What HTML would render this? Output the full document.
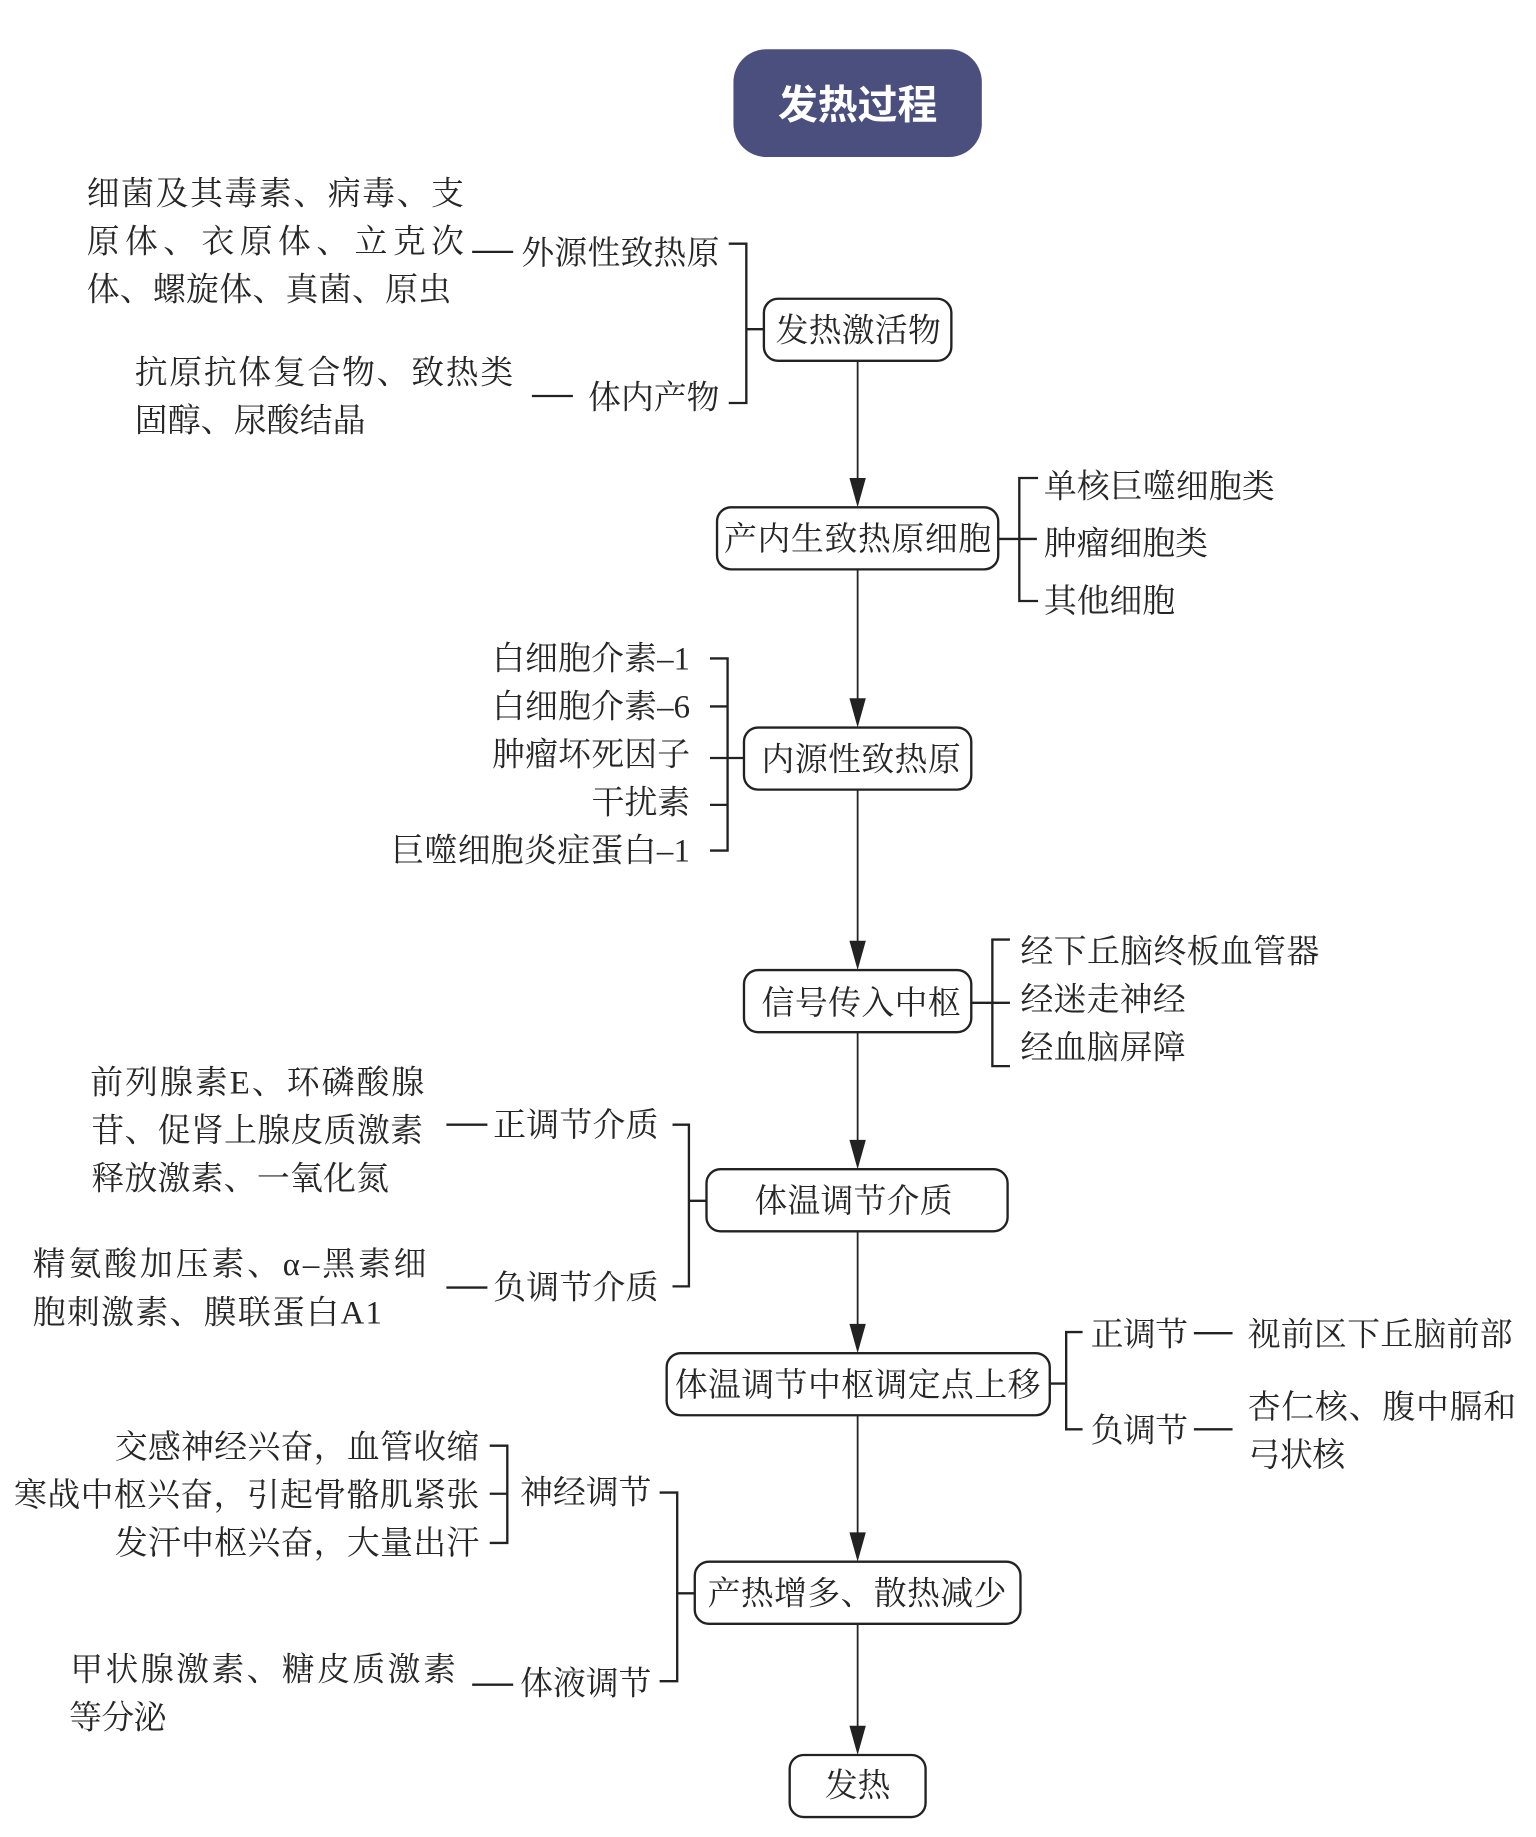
<!DOCTYPE html>
<html lang="zh">
<head>
<meta charset="utf-8">
<title>发热过程</title>
<style>
html,body{margin:0;padding:0;background:#fff;}
svg{display:block;}
text{font-family:"Liberation Serif","Noto Serif CJK SC",serif;font-size:28px;fill:#262626;}
.n{fill:#fff;stroke:#222;stroke-width:2;}
.l{stroke:#222;stroke-width:2;fill:none;}
.a{stroke:#222;stroke-width:1.5;fill:none;}
</style>
</head>
<body>
<svg xmlns="http://www.w3.org/2000/svg" width="1536" height="1837" viewBox="0 0 1311 1568" preserveAspectRatio="none">
<rect width="1311" height="1568" fill="#fff"/>
<rect x="626" y="42" width="212" height="92" rx="28" fill="#4b4f7e"/>
<text x="664" y="101" textLength="136" lengthAdjust="spacing" style="font-family:'Liberation Sans','Noto Sans CJK SC',sans-serif;font-size:34px;font-weight:700;fill:#fff">发热过程</text>

<!-- main arrows -->
<g class="a">
<path d="M732 308V412M732 486V600M732 674V807M732 881V977M732 1051V1134M732 1208V1312M732 1386V1477"/>
</g>
<g fill="#222">
<path d="M725 408H739L732 433Z"/>
<path d="M725 596H739L732 621Z"/>
<path d="M725 803H739L732 828Z"/>
<path d="M725 973H739L732 998Z"/>
<path d="M725 1130H739L732 1155Z"/>
<path d="M725 1308H739L732 1333Z"/>
<path d="M725 1473H739L732 1498Z"/>
</g>

<!-- nodes -->
<rect class="n" x="652" y="255" width="160" height="53" rx="12"/>
<rect class="n" x="612" y="433" width="240" height="53" rx="12"/>
<rect class="n" x="635" y="621" width="194" height="53" rx="12"/>
<rect class="n" x="635" y="828" width="194" height="53" rx="12"/>
<rect class="n" x="603" y="998" width="257" height="53" rx="12"/>
<rect class="n" x="569" y="1155" width="327" height="53" rx="12"/>
<rect class="n" x="593" y="1333" width="278" height="53" rx="12"/>
<rect class="n" x="674" y="1498" width="116" height="53" rx="12"/>

<!-- connectors -->
<g class="l">
<path d="M403 215H438"/>
<path d="M622 208H637V344H622M637 281H652"/>
<path d="M454 338H489"/>
<path d="M852 460H885M886 408H870V513H886"/>
<path d="M606 562H621V726H606M606 603H621M606 647H635M606 687H621"/>
<path d="M829 856H862M862 802H847V910H862"/>
<path d="M381 960H416"/>
<path d="M574 960H588V1098H574M588 1025H603"/>
<path d="M381 1099H416"/>
<path d="M896 1181H910M924 1137H910V1220H924"/>
<path d="M1019 1138H1052M1019 1220H1052"/>
<path d="M418 1234H433V1317H418M418 1275H433"/>
<path d="M563 1274H578V1435H563M578 1360H593"/>
<path d="M403 1438H438"/>
</g>

<g transform="translate(0,0.5)">
<!-- node labels -->
<text x="662" y="291" textLength="141" lengthAdjust="spacing">发热激活物</text>
<text x="618" y="469" textLength="228" lengthAdjust="spacing">产内生致热原细胞</text>
<text x="650" y="657" textLength="170" lengthAdjust="spacing">内源性致热原</text>
<text x="650" y="865" textLength="170" lengthAdjust="spacing">信号传入中枢</text>
<text x="644" y="1034" textLength="169" lengthAdjust="spacing">体温调节介质</text>
<text x="576" y="1191" textLength="312" lengthAdjust="spacing">体温调节中枢调定点上移</text>
<text x="604" y="1369" textLength="255" lengthAdjust="spacing">产热增多、散热减少</text>
<text x="704" y="1533" textLength="56" lengthAdjust="spacing">发热</text>

<!-- top left -->
<text x="74" y="174" textLength="322" lengthAdjust="spacing">细菌及其毒素、病毒、支</text>
<text x="74" y="215" textLength="322" lengthAdjust="spacing">原体、衣原体、立克次</text>
<text x="74" y="256" textLength="311" lengthAdjust="spacing">体、螺旋体、真菌、原虫</text>
<text x="445" y="225" textLength="169" lengthAdjust="spacing">外源性致热原</text>
<text x="115" y="327" textLength="323" lengthAdjust="spacing">抗原抗体复合物、致热类</text>
<text x="115" y="368" textLength="197" lengthAdjust="spacing">固醇、尿酸结晶</text>
<text x="502" y="348" textLength="112" lengthAdjust="spacing">体内产物</text>

<!-- right 1 -->
<text x="891" y="424" textLength="197" lengthAdjust="spacing">单核巨噬细胞类</text>
<text x="891" y="473" textLength="140" lengthAdjust="spacing">肿瘤细胞类</text>
<text x="891" y="522" textLength="112" lengthAdjust="spacing">其他细胞</text>

<!-- left 2 -->
<text x="420" y="571" textLength="169" lengthAdjust="spacing">白细胞介素–1</text>
<text x="420" y="612" textLength="169" lengthAdjust="spacing">白细胞介素–6</text>
<text x="420" y="653" textLength="169" lengthAdjust="spacing">肿瘤坏死因子</text>
<text x="505" y="694" textLength="84" lengthAdjust="spacing">干扰素</text>
<text x="334" y="735" textLength="255" lengthAdjust="spacing">巨噬细胞炎症蛋白–1</text>

<!-- right 2 -->
<text x="871" y="821" textLength="255" lengthAdjust="spacing">经下丘脑终板血管器</text>
<text x="871" y="862" textLength="141" lengthAdjust="spacing">经迷走神经</text>
<text x="871" y="903" textLength="141" lengthAdjust="spacing">经血脑屏障</text>

<!-- left 3 -->
<text x="77" y="933" textLength="285" lengthAdjust="spacing">前列腺素E、环磷酸腺</text>
<text x="78" y="974" textLength="283" lengthAdjust="spacing">苷、促肾上腺皮质激素</text>
<text x="78" y="1015" textLength="254" lengthAdjust="spacing">释放激素、一氧化氮</text>
<text x="421" y="969" textLength="141" lengthAdjust="spacing">正调节介质</text>
<text x="28" y="1088" textLength="336" lengthAdjust="spacing">精氨酸加压素、α–黑素细</text>
<text x="28" y="1129" textLength="298" lengthAdjust="spacing">胞刺激素、膜联蛋白A1</text>
<text x="421" y="1108" textLength="141" lengthAdjust="spacing">负调节介质</text>

<!-- right 3 -->
<text x="931" y="1148" textLength="83" lengthAdjust="spacing">正调节</text>
<text x="1065" y="1148" textLength="226" lengthAdjust="spacing">视前区下丘脑前部</text>
<text x="931" y="1230" textLength="83" lengthAdjust="spacing">负调节</text>
<text x="1065" y="1210" textLength="229" lengthAdjust="spacing">杏仁核、腹中膈和</text>
<text x="1065" y="1251" textLength="83" lengthAdjust="spacing">弓状核</text>

<!-- left 4 -->
<text x="98" y="1244" textLength="311" lengthAdjust="spacing" style="font-family:'Noto Serif CJK SC',serif">交感神经兴奋&#xFF0C;血管收缩</text>
<text x="12" y="1285" textLength="397" lengthAdjust="spacing" style="font-family:'Noto Serif CJK SC',serif">寒战中枢兴奋&#xFF0C;引起骨骼肌紧张</text>
<text x="98" y="1326" textLength="311" lengthAdjust="spacing" style="font-family:'Noto Serif CJK SC',serif">发汗中枢兴奋&#xFF0C;大量出汗</text>
<text x="444" y="1283" textLength="112" lengthAdjust="spacing">神经调节</text>
<text x="60" y="1434" textLength="329" lengthAdjust="spacing">甲状腺激素、糖皮质激素</text>
<text x="59" y="1475" textLength="83" lengthAdjust="spacing">等分泌</text>
<text x="444" y="1446" textLength="112" lengthAdjust="spacing">体液调节</text>
</g>
</svg>
</body>
</html>
